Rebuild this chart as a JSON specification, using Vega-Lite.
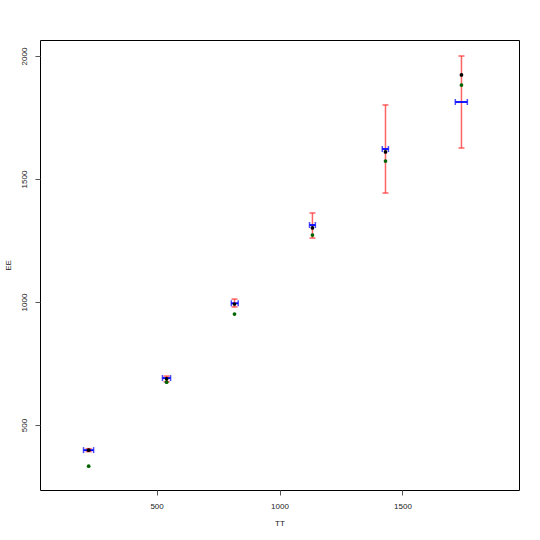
{
  "$schema": "https://vega.github.io/schema/vega-lite/v6.json",
  "autosize": {"type": "none"},
  "width": 479,
  "height": 450,
  "padding": {"left": 40, "top": 40, "right": 21, "bottom": 50},
  "background": "white",
  "config": {
    "view": {"stroke": "#000000", "strokeWidth": 1},
    "font": "Liberation Sans",
    "axis": {
      "domain": false,
      "grid": false,
      "tickColor": "#555555",
      "tickSize": 5,
      "format": "d",
      "labelFont": "Liberation Sans",
      "labelFontSize": 8,
      "labelColor": "#222222",
      "titleFont": "Liberation Sans",
      "titleFontSize": 8,
      "titleFontWeight": "normal",
      "titleColor": "#222222"
    }
  },
  "data": {
    "values": [
      {"TT": 224, "EE": 398, "EEg": 333, "rlo": 392, "rhi": 404, "by": 398, "blo": 203, "bhi": 244},
      {"TT": 541, "EE": 688, "EEg": 674, "rlo": 676, "rhi": 699, "by": 691, "blo": 524, "bhi": 557},
      {"TT": 817, "EE": 992, "EEg": 951, "rlo": 980, "rhi": 1012, "by": 995, "blo": 804, "bhi": 832},
      {"TT": 1134, "EE": 1301, "EEg": 1272, "rlo": 1260, "rhi": 1362, "by": 1313, "blo": 1122, "bhi": 1146},
      {"TT": 1431, "EE": 1610, "EEg": 1573, "rlo": 1443, "rhi": 1801, "by": 1622, "blo": 1418, "bhi": 1443},
      {"TT": 1740, "EE": 1923, "EEg": 1882, "rlo": 1626, "rhi": 2000, "by": 1813, "blo": 1715, "bhi": 1764}
    ]
  },
  "layer": [
    {
      "mark": {"type": "rule", "color": "#ff3030", "strokeWidth": 1.5, "opacity": 0.75},
      "encoding": {
        "x": {"field": "TT", "type": "quantitative", "scale": {"domain": [26, 1974], "nice": false, "zero": false}, "axis": {"values": [500, 1000, 1500], "format": "d", "title": "TT", "labelPadding": 7, "titlePadding": 9}},
        "y": {"field": "rlo", "type": "quantitative", "scale": {"domain": [236, 2065], "nice": false, "zero": false}, "axis": {"values": [500, 1000, 1500, 2000], "format": "d", "title": "EE", "labelAngle": 270, "labelAlign": "center", "labelBaseline": "bottom", "labelPadding": 7, "titlePadding": 8}},
        "y2": {"field": "rhi"}
      }
    },
    {
      "mark": {"type": "tick", "orient": "horizontal", "color": "#ff3030", "size": 6, "thickness": 1.5, "opacity": 0.75},
      "encoding": {
        "x": {"field": "TT", "type": "quantitative"},
        "y": {"field": "rlo", "type": "quantitative"}
      }
    },
    {
      "mark": {"type": "tick", "orient": "horizontal", "color": "#ff3030", "size": 6, "thickness": 1.5, "opacity": 0.75},
      "encoding": {
        "x": {"field": "TT", "type": "quantitative"},
        "y": {"field": "rhi", "type": "quantitative"}
      }
    },
    {
      "mark": {"type": "rule", "color": "#0000ff", "strokeWidth": 1.8},
      "encoding": {
        "x": {"field": "blo", "type": "quantitative"},
        "x2": {"field": "bhi"},
        "y": {"field": "by", "type": "quantitative"}
      }
    },
    {
      "mark": {"type": "tick", "orient": "vertical", "color": "#0000ff", "size": 6, "thickness": 1.5},
      "encoding": {
        "x": {"field": "blo", "type": "quantitative"},
        "y": {"field": "by", "type": "quantitative"}
      }
    },
    {
      "mark": {"type": "tick", "orient": "vertical", "color": "#0000ff", "size": 6, "thickness": 1.5},
      "encoding": {
        "x": {"field": "bhi", "type": "quantitative"},
        "y": {"field": "by", "type": "quantitative"}
      }
    },
    {
      "mark": {"type": "point", "filled": true, "shape": "circle", "color": "#006400", "size": 14, "opacity": 1},
      "encoding": {
        "x": {"field": "TT", "type": "quantitative"},
        "y": {"field": "EEg", "type": "quantitative"}
      }
    },
    {
      "mark": {"type": "point", "filled": true, "shape": "circle", "color": "#000000", "size": 14, "opacity": 1},
      "encoding": {
        "x": {"field": "TT", "type": "quantitative"},
        "y": {"field": "EE", "type": "quantitative"}
      }
    }
  ]
}
